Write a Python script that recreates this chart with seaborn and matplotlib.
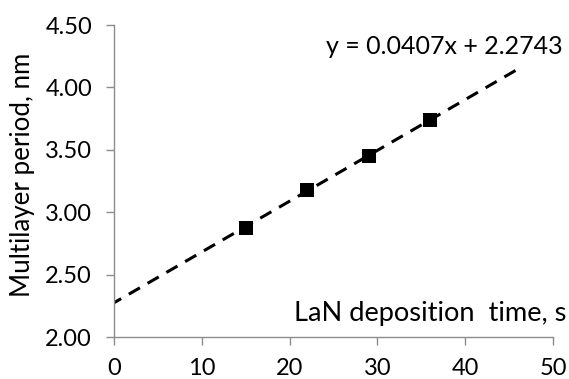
import numpy as np
import pandas as pd
import matplotlib
matplotlib.use("Agg")
import matplotlib.pyplot as plt
import seaborn as sns

# Measured multilayer period vs. LaN deposition time
dep_time = [15, 22, 29, 36]
period = [2.87, 3.18, 3.45, 3.74]

# Linear trend line coefficients
slope = 0.0407
intercept = 2.2743
trend_x = [0, 46]

x_ticks = [0, 10, 20, 30, 40, 50]
y_ticks = [2.00, 2.50, 3.00, 3.50, 4.00, 4.50]

sns.set_theme(style="white")
plt.rcParams["font.family"] = ["Lato", "DejaVu Sans"]

fig = plt.figure(figsize=(5.69, 3.79), dpi=100)
ax = fig.add_axes([114 / 569, 1 - 337 / 379, (553 - 114) / 569, (337 - 25) / 379])

trend = pd.DataFrame({"t": trend_x, "p": [slope * x + intercept for x in trend_x]})
sns.lineplot(data=trend, x="t", y="p", ax=ax, color="black", linewidth=2.2,
             linestyle=(1.5, (4.2, 2.9)), zorder=2)

pts = pd.DataFrame({"t": dep_time, "p": period})
sns.scatterplot(data=pts, x="t", y="p", ax=ax, marker="s", s=110, color="black",
                edgecolor="black", linewidth=0, zorder=3)

ax.set_xlim(0, 50)
ax.set_ylim(2.0, 4.5)
ax.set_xticks(x_ticks)
ax.set_yticks(y_ticks)
ax.set_xticklabels([str(v) for v in x_ticks])
ax.set_yticklabels([f"{v:.2f}" for v in y_ticks])

grey = "#8c8c8c"
for side in ("top", "right"):
    ax.spines[side].set_visible(False)
for side in ("left", "bottom"):
    ax.spines[side].set_color(grey)
    ax.spines[side].set_linewidth(1.0)
ax.tick_params(axis="both", which="major", direction="out", length=5.8, width=1.0,
               color=grey, labelsize=17, labelcolor="black")
ax.tick_params(axis="y", pad=10)
ax.tick_params(axis="x", pad=9)
ax.tick_params(left=True, bottom=True)

ax.set_xlabel("")
ax.set_ylabel("")
fig.text(23 / 569, 1 - 175 / 379, "Multilayer period, nm", rotation=90,
         ha="center", va="center", fontsize=18.6, color="black")
fig.text(566 / 569, 1 - 313 / 379, "LaN deposition  time, s",
         ha="right", va="center", fontsize=19.6, color="black")
fig.text(563 / 569, 1 - 47 / 379, f"y = {slope}x + {intercept}",
         ha="right", va="center", fontsize=18, color="black")

fig.savefig("out.png", dpi=100)
